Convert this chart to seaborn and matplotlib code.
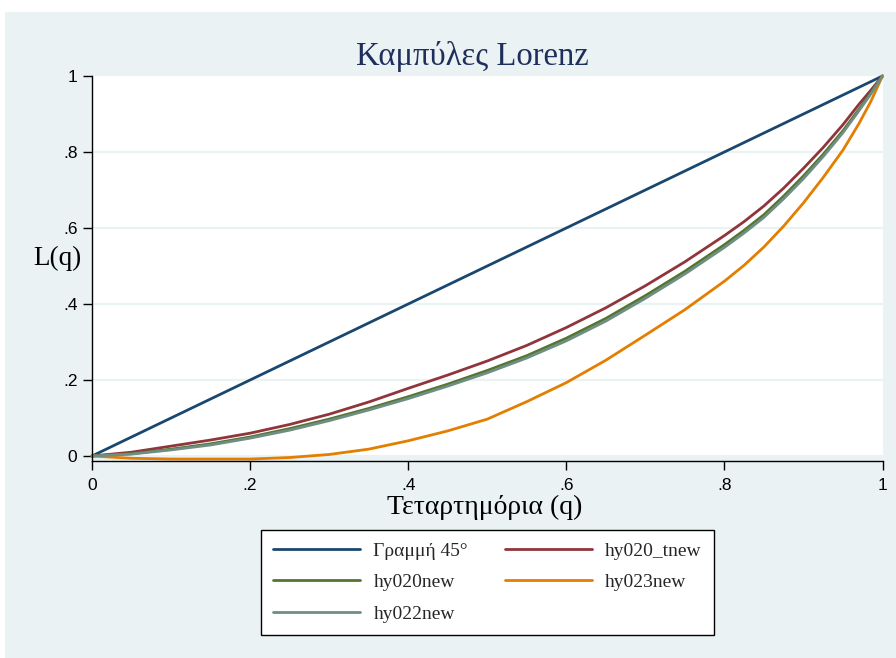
import matplotlib
matplotlib.use("Agg")
import matplotlib.pyplot as plt
import seaborn as sns
import pandas as pd
from matplotlib.patches import Rectangle

# ---- data ----
series_names = ["Γραμμή 45°", "hy020_tnew", "hy020new", "hy023new", "hy022new"]
colors = ["#1a476f", "#90353b", "#55752f", "#e37e00", "#6e8e84"]

q_45 = [0.0, 1.0]
L_45 = [0.0, 1.0]

q_curve = [0.0, 0.05, 0.1, 0.15, 0.2, 0.25, 0.3, 0.35, 0.4, 0.45, 0.5, 0.55, 0.6,
           0.65, 0.7, 0.75, 0.8, 0.825, 0.85, 0.875, 0.9, 0.925, 0.95, 0.97, 0.985, 1.0]
L_hy020_tnew = [0.0, 0.010, 0.026, 0.042, 0.060, 0.083, 0.110, 0.142, 0.178, 0.213, 0.250,
                0.291, 0.338, 0.390, 0.448, 0.511, 0.580, 0.617, 0.658, 0.705, 0.757,
                0.812, 0.872, 0.925, 0.962, 1.0]
L_hy020new = [0.0, 0.006, 0.018, 0.032, 0.050, 0.072, 0.097, 0.125, 0.156, 0.189, 0.225,
              0.264, 0.310, 0.362, 0.422, 0.486, 0.556, 0.594, 0.635, 0.684, 0.737,
              0.794, 0.856, 0.912, 0.955, 1.0]
L_hy023new = [0.0, -0.006, -0.008, -0.008, -0.008, -0.004, 0.004, 0.018, 0.040, 0.066, 0.097,
              0.143, 0.193, 0.252, 0.318, 0.385, 0.460, 0.502, 0.550, 0.605, 0.666,
              0.733, 0.805, 0.874, 0.932, 1.0]
L_hy022new = [0.0, 0.005, 0.016, 0.029, 0.047, 0.068, 0.093, 0.121, 0.151, 0.184, 0.219,
              0.258, 0.303, 0.355, 0.415, 0.479, 0.549, 0.587, 0.628, 0.677, 0.730,
              0.788, 0.851, 0.908, 0.952, 1.0]

tick_vals = [0, 0.2, 0.4, 0.6, 0.8, 1.0]
tick_labels = ["0", ".2", ".4", ".6", ".8", "1"]

title = "Καμπύλες Lorenz"
xlabel = "Τεταρτημόρια (q)"
ylabel = "L(q)"

# ---- long-form table ----
frames = [pd.DataFrame({"q": q_45, "L": L_45, "series": series_names[0]})]
for name, vals in zip(series_names[1:], [L_hy020_tnew, L_hy020new, L_hy023new, L_hy022new]):
    frames.append(pd.DataFrame({"q": q_curve, "L": vals, "series": name}))
df = pd.concat(frames, ignore_index=True)

sns.set_theme(style="white")
plt.rcParams["font.family"] = ["Liberation Serif", "DejaVu Serif"]

BG = "#eaf2f3"
fig = plt.figure(figsize=(8.96, 6.58), dpi=100)
fig.patch.set_facecolor("white")
fig.patches.append(Rectangle((5 / 896, 0), 1 - 5 / 896, 1 - 12 / 658,
                             transform=fig.transFigure, facecolor=BG,
                             edgecolor="none", zorder=-10))

W, H = 896, 658
left, right = 92 / W, 882.5 / W
top, bottom = 1 - 76 / H, 1 - 461 / H
ax = fig.add_axes([left, bottom, right - left, top - bottom])
ax.set_facecolor(BG)
ymin = -(461 - 456) / 380
ax.set_ylim(ymin, 1.0)
ax.set_xlim(0, 1.0)
ax.axhspan(ymin + 0.016, 1.0, color="white", zorder=0, lw=0)

for yv in tick_vals[1:-1]:
    ax.axhline(yv, color=BG, lw=1.6, zorder=0.5)

palette = dict(zip(series_names, colors))
sns.lineplot(data=df, x="q", y="L", hue="series", hue_order=series_names,
             palette=palette, sort=True, estimator=None, lw=2.0, ax=ax, legend=False)
for ln in ax.lines:
    ln.set_clip_on(False)
    ln.set_solid_joinstyle("round")

ax.set_xticks(tick_vals)
ax.set_xticklabels(tick_labels)
ax.set_yticks(tick_vals)
ax.set_yticklabels(tick_labels)
for lab in ax.get_xticklabels() + ax.get_yticklabels():
    lab.set_fontfamily(["Liberation Sans", "DejaVu Sans"])
    lab.set_fontsize(12.5)
    lab.set_color("black")
ax.tick_params(axis="both", which="major", direction="out", length=6.5, width=1.0,
               color="black", left=True, bottom=True)
ax.tick_params(axis="y", pad=4)
ax.tick_params(axis="x", pad=6)

for s in ["top", "right"]:
    ax.spines[s].set_visible(False)
for s in ["left", "bottom"]:
    ax.spines[s].set_color("black")
    ax.spines[s].set_linewidth(1.0)

ax.set_xlabel("")
ax.set_ylabel("")
fig.text(485 / W, 1 - 507 / H, xlabel, ha="center", va="center", fontsize=20, color="black")
fig.text(57 / W, 1 - 258 / H, ylabel, ha="center", va="center", fontsize=19.5, color="black")
fig.text(472 / W, 1 - 57 / H, title, ha="center", va="center", fontsize=23.5, color="#1f2f5c")

# legend: matplotlib fills column-major; reorder so rows read like the reference
order = [series_names[i] for i in [0, 2, 4, 1, 3]]
handles = [plt.Line2D([], [], color=palette[name], lw=2.0) for name in order]
leg = fig.legend(handles, order, loc="upper center", ncol=2,
                 bbox_to_anchor=(487.5 / W, 1 - 530 / H),
                 frameon=True, fancybox=False, framealpha=1.0, edgecolor="black",
                 facecolor="white", fontsize=14, handlelength=4.45, handletextpad=0.7,
                 columnspacing=1.9, labelspacing=0.72, borderpad=0.62, borderaxespad=0)
leg.get_frame().set_linewidth(1.0)

fig.savefig("out.png", dpi=100, facecolor=fig.get_facecolor())
